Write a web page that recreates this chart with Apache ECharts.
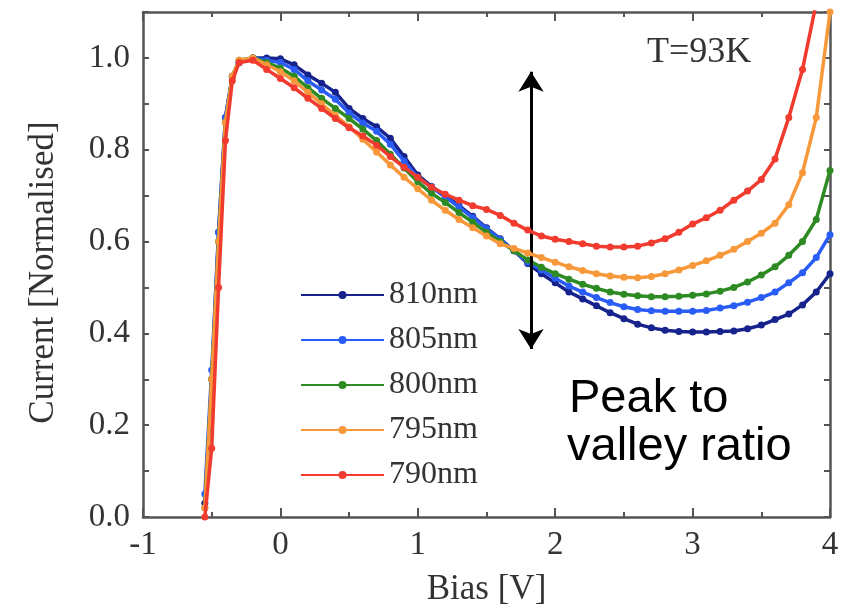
<!DOCTYPE html>
<html><head><meta charset="utf-8">
<script src="https://cdn.jsdelivr.net/npm/echarts@6/dist/echarts.min.js"></script>
<style>html,body{margin:0;padding:0;background:#fff}#c{width:847px;height:612px}</style>
</head><body><div id="c"></div>
<script>
// Bias values (V)
const bias = [-0.55,-0.5,-0.45,-0.4,-0.35,-0.3,-0.2,-0.1,
  0.0,0.1,0.2,0.3,0.4,0.5,0.6,0.7,0.8,0.9,1.0,
  1.1,1.2,1.3,1.4,1.5,1.6,1.7,1.8,1.9,2.0,
  2.1,2.2,2.3,2.4,2.5,2.6,2.7,2.8,2.9,3.0,
  3.1,3.2,3.3,3.4,3.5,3.6,3.7,3.8,3.9,4.0];

const seriesNames = ['810nm','805nm','800nm','795nm','790nm'];
const seriesColors = ['#17238c','#2a5cf6','#2e8a22','#f7983a','#f03b2e'];

const cur810 = [0.03,0.30,0.62,0.87,0.96,0.99, 1.0,1.0,
  0.998,0.985,0.963,0.945,0.925,0.89,0.868,0.85,0.825,0.785,0.745,
  0.72,0.70,0.678,0.655,0.63,0.606,0.58,0.552,0.53,0.51,
  0.49,0.475,0.46,0.445,0.432,0.42,0.412,0.407,0.404,0.403,
  0.403,0.404,0.405,0.41,0.418,0.43,0.442,0.462,0.49,0.53];
const cur805 = [0.05,0.32,0.62,0.87,0.96,0.99, 1.0,0.995,
  0.99,0.975,0.95,0.93,0.91,0.88,0.858,0.84,0.812,0.775,0.74,
  0.718,0.697,0.675,0.652,0.628,0.605,0.58,0.555,0.538,0.52,
  0.503,0.49,0.478,0.467,0.458,0.452,0.449,0.448,0.448,0.448,
  0.45,0.455,0.46,0.468,0.478,0.49,0.51,0.532,0.565,0.615];
const cur800 = [0.02,0.30,0.60,0.86,0.96,0.995, 1.0,0.99,
  0.978,0.96,0.935,0.912,0.89,0.868,0.845,0.82,0.79,0.76,0.73,
  0.705,0.685,0.663,0.642,0.62,0.60,0.58,0.56,0.544,0.53,
  0.518,0.507,0.498,0.49,0.485,0.482,0.48,0.48,0.481,0.483,
  0.486,0.492,0.50,0.512,0.527,0.545,0.57,0.60,0.648,0.755];
const cur795 = [0.02,0.30,0.60,0.86,0.96,0.995, 1.0,0.985,
  0.97,0.95,0.925,0.90,0.875,0.85,0.823,0.795,0.767,0.74,0.715,
  0.69,0.668,0.648,0.63,0.612,0.595,0.585,0.575,0.565,0.555,
  0.545,0.537,0.53,0.525,0.522,0.521,0.524,0.53,0.538,0.548,
  0.558,0.57,0.583,0.60,0.618,0.64,0.68,0.75,0.87,1.1];
const cur790 = [0.0,0.15,0.50,0.82,0.95,0.99, 0.995,0.975,
  0.955,0.935,0.912,0.89,0.868,0.848,0.83,0.81,0.785,0.762,0.74,
  0.718,0.703,0.69,0.678,0.67,0.657,0.64,0.625,0.612,0.605,
  0.60,0.595,0.59,0.588,0.588,0.59,0.597,0.606,0.62,0.638,
  0.652,0.668,0.69,0.71,0.735,0.78,0.87,0.975,1.12,null];

const allCurrents = [cur810, cur805, cur800, cur795, cur790];

// annotation arrow (data coords)
const arrowBias = [1.824];
const arrowCurrent = [0.97, 0.366];

const serif = '"Liberation Serif","Times New Roman",serif';
const sans = '"Liberation Sans",Arial,Helvetica,sans-serif';
const axisColor = '#555';

function pairs(arr){
  const out = [];
  for (let j = 0; j < bias.length; j++) if (arr[j] != null) out.push([bias[j], arr[j]]);
  return out;
}

const series = seriesNames.map((n, k) => ({
  name: n, type: 'line', data: pairs(allCurrents[k]),
  symbol: 'circle', symbolSize: 7, showSymbol: true,
  lineStyle: {width: 3.5, color: seriesColors[k]},
  itemStyle: {color: seriesColors[k]},
  clip: true, z: 2 + k
}));
series[4].markLine = {
  silent: true, symbol: ['arrow','arrow'], symbolSize: [19, 20],
  label: {show: false},
  lineStyle: {color: '#000', width: 3, type: 'solid'},
  emphasis: {disabled: true},
  data: [[{coord: [arrowBias[0], arrowCurrent[0]]}, {coord: [arrowBias[0], arrowCurrent[1]]}]]
};

const tickLine = {color: axisColor, width: 2};
const xBase = {
  type: 'value', min: -1, max: 4, interval: 1,
  axisLine: {show: true, onZero: false, lineStyle: {color: axisColor, width: 2.5}},
  axisTick: {show: true, inside: true, length: 9, lineStyle: tickLine},
  minorTick: {show: true, splitNumber: 2, length: 5, lineStyle: tickLine},
  splitLine: {show: false}, minorSplitLine: {show: false}
};
const yBase = {
  type: 'value', min: 0, max: 1.1, interval: 0.1,
  axisLine: {show: true, onZero: false, lineStyle: {color: axisColor, width: 2.5}},
  axisTick: {show: true, inside: true, length: 6, lineStyle: tickLine},
  splitLine: {show: false}
};

const chart = echarts.init(document.getElementById('c'), null, {renderer: 'canvas'});
chart.setOption({
  animation: false,
  backgroundColor: '#fff',
  grid: {left: 143, right: 17, top: 12, bottom: 90, containLabel: false},
  xAxis: [
    Object.assign({}, xBase, {
      position: 'bottom',
      axisLabel: {margin: 12, fontFamily: serif, fontSize: 33, color: '#333'},
      name: 'Bias [V]', nameLocation: 'middle', nameGap: 55,
      nameTextStyle: {fontFamily: serif, fontSize: 35, color: '#333'}
    }),
    Object.assign({}, xBase, {position: 'top', axisLabel: {show: false}})
  ],
  yAxis: [
    Object.assign({}, yBase, {
      position: 'left',
      axisLabel: {margin: 13, fontFamily: serif, fontSize: 33, color: '#333',
        formatter: v => { const k = Math.round(v * 10); return (k % 2 === 0 && k <= 10) ? (k / 10).toFixed(1) : ''; }},
      name: 'Current [Normalised]', nameLocation: 'middle', nameGap: 82,
      nameTextStyle: {fontFamily: serif, fontSize: 35, color: '#333', padding: [0, 16, 0, 0]}
    }),
    Object.assign({}, yBase, {position: 'right', axisLabel: {show: false}})
  ],
  legend: {
    orient: 'vertical', left: 295, top: 274,
    itemWidth: 83, itemHeight: 10, itemGap: 13,
    textStyle: {fontFamily: serif, fontSize: 32, color: '#333', lineHeight: 32},
    data: seriesNames
  },
  graphic: [
    {type: 'text', x: 647, y: 53, style: {text: 'T=93K', font: '36px ' + serif, fill: '#333', verticalAlign: 'middle'}},
    {type: 'text', x: 569, y: 399, style: {text: 'Peak to', font: '47px ' + sans, fill: '#000', verticalAlign: 'middle'}},
    {type: 'text', x: 567, y: 447, style: {text: 'valley ratio', font: '47px ' + sans, fill: '#000', verticalAlign: 'middle'}}
  ],
  series: series
});
</script>
</body></html>
